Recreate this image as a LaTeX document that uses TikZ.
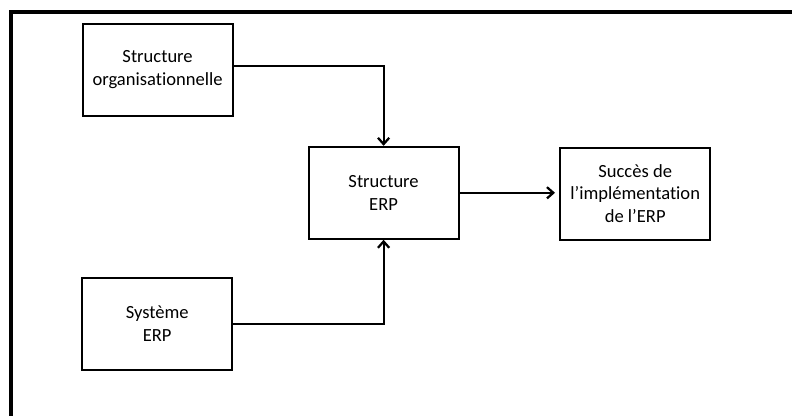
\documentclass[tikz,border=0pt]{standalone}
\usepackage{fontspec}
\setmainfont[Ligatures=NoCommon]{Carlito}
\usetikzlibrary{arrows.meta}

\begin{document}
\begin{tikzpicture}[
    bloc/.style={draw, line width=1.4pt, minimum width=3.75cm, minimum height=2.3cm,
                 inner sep=2pt, align=center, font=\fontsize{13.2}{16}\selectfont},
    fleche/.style={line width=1.4pt, -{Straight Barb[length=4.5pt,width=8pt,line width=1.6pt]}}
  ]
            \useasboundingbox (0,0) rectangle (19.8,10.4);
            \draw[line width=2.85pt] (0.275,-0.5) --(0.275,10.11) --(20.3,10.11);
            \node[bloc] (orga) at (3.94,8.66) {Structure\\organisationnelle};
            \node[bloc] (structerp) at (9.59,5.58) {Structure\\ERP};
            \node[bloc] (succes) at (15.88,5.56) {Succès de\\l’implémentation\\de l’ERP};
            \node[bloc] (systeme) at (3.93,2.31) {Système\\ERP};
            \draw[fleche] ([yshift=0.09cm]orga.east) -| (structerp.north);
            \draw[fleche] (systeme.east) -| (structerp.south);
            \draw[fleche, shorten >=3pt] (structerp.east) --(structerp.east -| succes.west);
        \end{tikzpicture}
\end{document}
